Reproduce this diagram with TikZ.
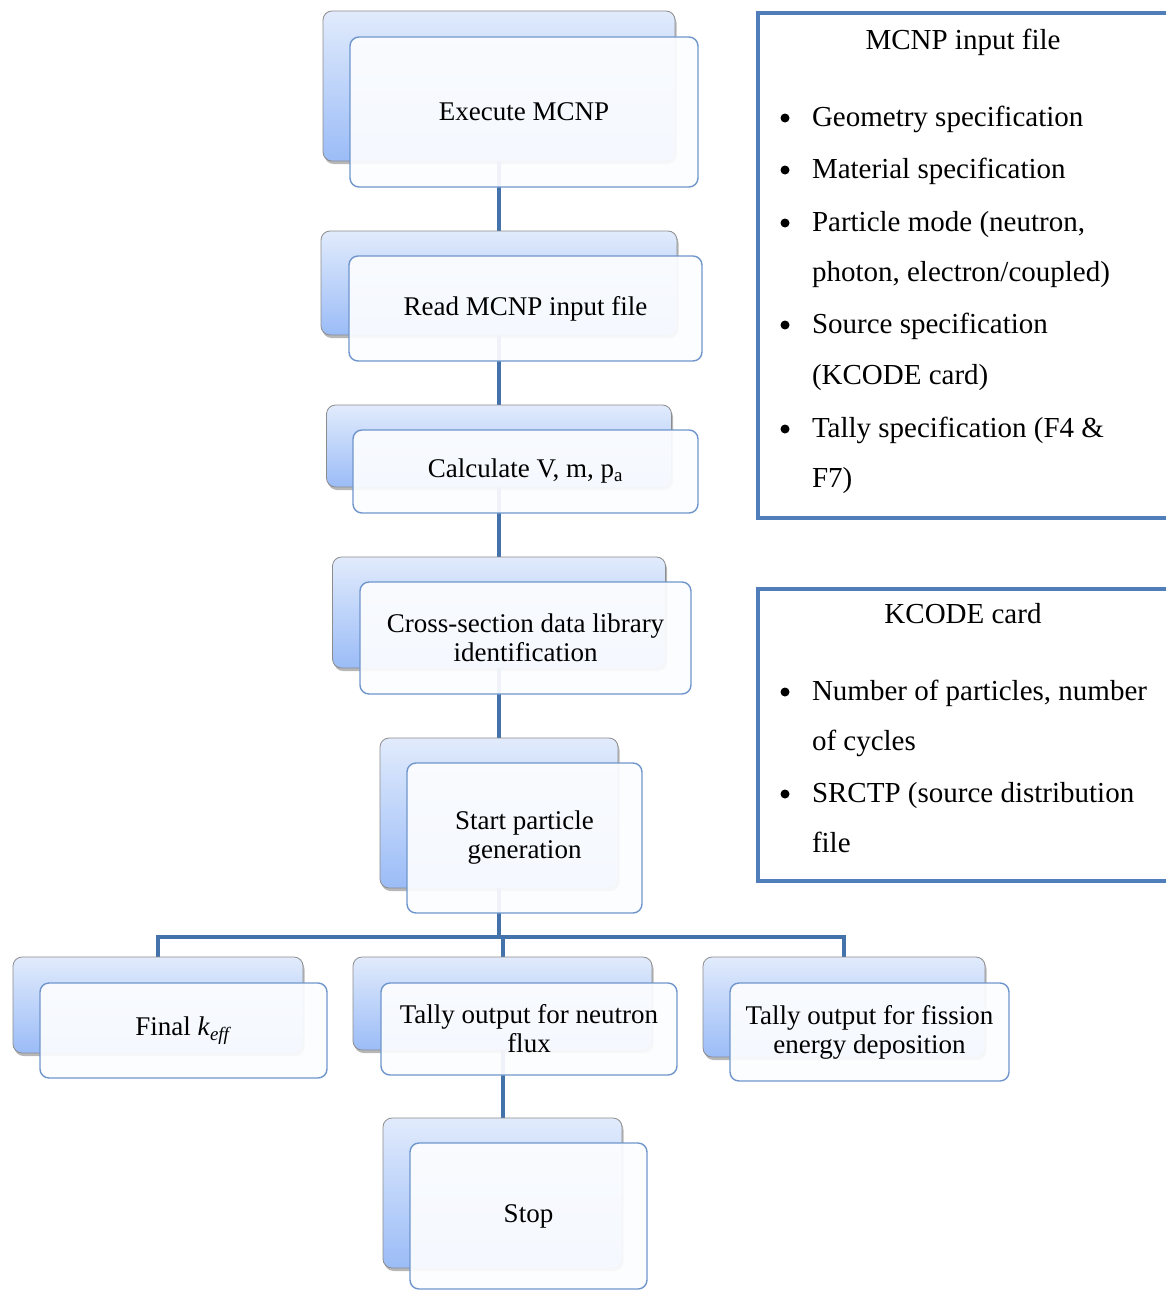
\documentclass[tikz,border=0pt]{standalone}
\usepackage{fontspec}
\setmainfont{Liberation Serif}
\usetikzlibrary{shadows}
\pgfdeclarelayer{bg}
\pgfsetlayers{bg,main}
\definecolor{connc}{HTML}{4472AA}
\definecolor{bktop}{HTML}{E1EBFC}
\definecolor{bkbot}{HTML}{9BBCF7}
\definecolor{frbord}{HTML}{6F96CC}
\definecolor{frfill}{HTML}{FCFDFF}
\definecolor{panelc}{HTML}{4F7EBB}
\newcommand\boxfont{\fontsize{27}{29}\selectfont}
\newcommand\panelfont{\fontsize{29}{35}\selectfont}
\begin{document}
\begin{tikzpicture}[x=1pt,y={(0pt,-1pt)},
  backbox/.style={rounded corners=9pt, draw=black!45, line width=0.8pt,
    top color=bktop, bottom color=bkbot,
    drop shadow={shadow xshift=1.5pt, shadow yshift=-3pt, opacity=0.4, fill=black!70},
    inner sep=0pt, outer sep=0pt},
  frontbox/.style={rounded corners=9pt, draw=frbord, line width=1.4pt,
    fill=frfill, fill opacity=0.93, text opacity=1, inner sep=0pt, outer sep=0pt,
    align=center, font=\boxfont},
  conn/.style={draw=connc, line width=4pt},
  panel/.style={draw=panelc, line width=3.5pt},
  ptext/.style={font=\panelfont, inner sep=0pt, outer sep=0pt},
  bul/.style={circle, fill=black, minimum size=9pt, inner sep=0pt}]
\useasboundingbox (0,0) rectangle (1166,1290);
\clip (0,0) rectangle (1166,1290);

% box pairs
\node[backbox, minimum width=352pt, minimum height=150pt] (b1) at (499,86) {};
\node[frontbox, minimum width=348pt, minimum height=150pt] (f1) at (524,112) {Execute MCNP};

\node[backbox, minimum width=356pt, minimum height=104pt] (b2) at (499,283) {};
\node[frontbox, minimum width=353pt, minimum height=105pt] (f2) at (525.5,308.5) {Read MCNP input file};

\node[backbox, minimum width=345pt, minimum height=82pt] (b3) at (499,446) {};
\node[frontbox, minimum width=345pt, minimum height=83pt] (f3) at (525.5,471.5) {Calculate V, m, p\textsubscript{a}};

\node[backbox, minimum width=333pt, minimum height=111pt] (b4) at (499,612.5) {};
\node[frontbox, minimum width=331pt, minimum height=112pt] (f4) at (525.5,638) {Cross-section data library\\identification};

\node[backbox, minimum width=238pt, minimum height=150pt] (b5) at (499,813) {};
\node[frontbox, minimum width=235pt, minimum height=150pt] (f5) at (524.5,838) {Start particle\\generation};

\node[backbox, minimum width=290pt, minimum height=96pt] (b6) at (158,1005) {};
\node[frontbox, minimum width=287pt, minimum height=95pt] (f6) at (183.5,1030.5) {Final \textit{k}\textsubscript{\textit{eff}}};

\node[backbox, minimum width=299pt, minimum height=93pt] (b7) at (502.5,1003.5) {};
\node[frontbox, minimum width=296pt, minimum height=92pt] (f7) at (529,1029) {Tally output for neutron\\flux};

\node[backbox, minimum width=282pt, minimum height=100pt] (b8) at (844,1007) {};
\node[frontbox, minimum width=279pt, minimum height=98pt] (f8) at (869.5,1032) {Tally output for fission\\energy deposition};

\node[backbox, minimum width=239pt, minimum height=150pt] (b9) at (502.5,1193) {};
\node[frontbox, minimum width=237pt, minimum height=146pt] (f9) at (528.5,1216) {Stop};

% connectors
\begin{pgfonlayer}{bg}
\draw[conn] (b1.south) -- (b2.north);
\draw[conn] (b2.south) -- (b3.north);
\draw[conn] (b3.south) -- (b4.north);
\draw[conn] (b4.south) -- (b5.north);
\coordinate (jn) at (499,937);
\draw[conn] (b5.south) -- (jn);
\draw[conn] (b6.north) -- (b6.north |- jn) -- (b8.north |- jn) -- (b8.north);
\draw[conn] (b7.north |- jn) -- (b7.north);
\draw[conn] (b7.south) -- (b9.north);
\end{pgfonlayer}

% right panels
\draw[panel] (758,13) rectangle (1190,518);
\draw[panel] (758,589) rectangle (1190,881);

\node[ptext, anchor=base] (t1) at (963,49) {MCNP input file};
\node[bul] (u1) at (785,118) {};
\node[ptext, anchor=base west] (l1) at (812,126) {Geometry specification};
\node[bul] (u2) at (785,170) {};
\node[ptext, anchor=base west] (l2) at (812,178) {Material specification};
\node[bul] (u3) at (785,223) {};
\node[ptext, anchor=base west] (l3) at (812,231) {Particle mode (neutron,};
\node[ptext, anchor=base west] (l4) at (812,281) {photon, electron/coupled)};
\node[bul] (u4) at (785,325) {};
\node[ptext, anchor=base west] (l5) at (812,333) {Source specification};
\node[ptext, anchor=base west] (l6) at (812,384) {(KCODE card)};
\node[bul] (u5) at (785,429) {};
\node[ptext, anchor=base west] (l7) at (812,437) {Tally specification (F4 \&};
\node[ptext, anchor=base west] (l8) at (812,487) {F7)};

\node[ptext, anchor=base] (t2) at (963,623) {KCODE card};
\node[bul] (v1) at (785,692) {};
\node[ptext, anchor=base west] (m1) at (812,700) {Number of particles, number};
\node[ptext, anchor=base west] (m2) at (812,750) {of cycles};
\node[bul] (v2) at (785,794) {};
\node[ptext, anchor=base west] (m3) at (812,802) {SRCTP (source distribution};
\node[ptext, anchor=base west] (m4) at (812,852) {file};
\end{tikzpicture}
\end{document}
